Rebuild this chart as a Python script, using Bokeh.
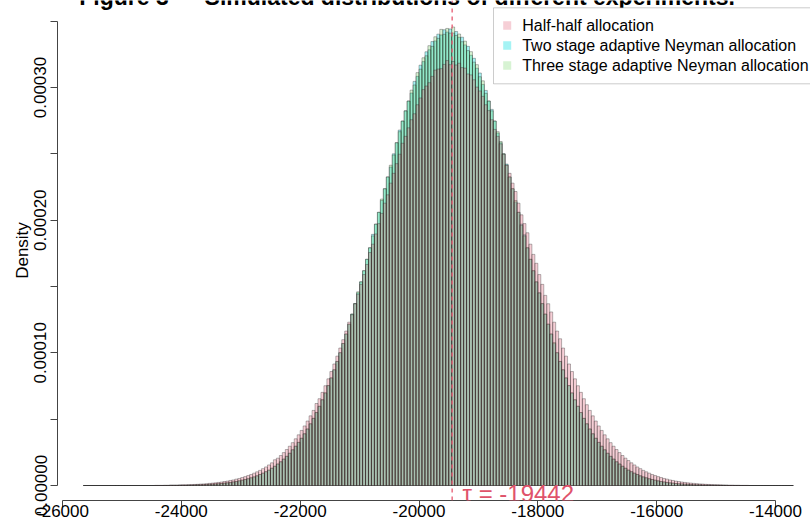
import math
import numpy as np
from bokeh.plotting import figure
from bokeh.models import (ColumnDataSource, Span, Label, BoxAnnotation,
                          FixedTicker, PrintfTickFormatter, Range1d)
from bokeh.embed import file_html
from bokeh.resources import INLINE

# ---------------- data (densities in units of 1e-6) ----------------
bin_start = -25650
bin_width = 50
tau = -19442

half_half = [
    0.0, 0.0, 0.0, 0.0, 0.0, 0.0, 0.0, 0.0, 0.0, 0.0, 0.0, 0.0,
    0.0, 0.0, 0.0, 0.0, 0.0, 0.0, 0.0, 0.0, 0.0, 0.0, 0.0, 0.0,
    0.1, 0.1, 0.1, 0.2, 0.2, 0.3, 0.3, 0.3, 0.4, 0.5,
    0.5, 0.6, 0.7, 0.8, 0.9, 1.1, 1.2, 1.4, 1.6, 1.8,
    2.0, 2.3, 2.6, 3.0, 3.3, 3.8, 4.2, 4.8, 5.3, 6.0,
    6.7, 7.5, 8.3, 9.3, 10.3, 11.4, 12.7, 14.0, 15.5, 17.1,
    19.4, 20.6, 22.6, 24.8, 27.1, 29.6, 32.3, 35.2, 38.2, 41.5,
    44.9, 48.6, 52.5, 56.6, 61.8, 65.4, 70.2, 75.2, 80.4, 85.9,
    91.6, 97.5, 103.6, 109.9, 116.4, 123.1, 128.7, 137.0, 144.2, 151.6,
    159.0, 166.6, 175.6, 181.9, 189.6, 197.4, 205.1, 212.8, 219.1, 227.9,
    235.3, 242.6, 249.7, 258.0, 263.2, 269.6, 275.7, 280.2, 287.0, 292.1,
    298.4, 301.1, 303.6, 308.4, 313.1, 313.9, 314.2, 317.4, 320.3, 317.2,
    319.6, 317.0, 318.3, 315.0, 314.6, 310.2, 309.5, 305.8, 300.3, 297.4,
    293.3, 287.0, 282.6, 275.7, 268.4, 263.2, 257.5, 249.7, 241.5, 235.3,
    227.9, 221.6, 212.8, 204.0, 197.4, 190.5, 181.9, 174.2, 167.5, 159.0,
    151.6, 143.3, 137.0, 130.8, 123.1, 116.4, 110.6, 103.6, 97.5, 91.6,
    85.9, 80.4, 75.2, 70.2, 65.4, 60.9, 56.6, 52.5, 48.6, 44.9,
    41.5, 38.2, 35.2, 32.3, 29.6, 27.1, 24.8, 22.6, 20.6, 18.8,
    17.1, 15.5, 14.0, 12.7, 11.4, 10.3, 9.3, 8.3, 7.5, 6.7,
    6.0, 5.3, 4.8, 4.2, 3.8, 3.3, 3.0, 2.6, 2.3, 2.0,
    1.8, 1.6, 1.4, 1.2, 1.1, 0.9, 0.8, 0.7, 0.6, 0.5,
    0.5, 0.4, 0.3, 0.3, 0.3, 0.2, 0.2, 0.1, 0.1, 0.1,
    0.0, 0.0, 0.0, 0.0, 0.0, 0.0, 0.0, 0.0, 0.0, 0.0, 0.0, 0.0, 0.0, 0.0, 0.0,
]

two_stage = [
    0.0, 0.0, 0.0, 0.0, 0.0, 0.0, 0.0, 0.0, 0.0, 0.0, 0.0, 0.0, 0.0, 0.0, 0.0,
    0.0, 0.0, 0.0, 0.0, 0.0, 0.0, 0.0, 0.0, 0.0, 0.0, 0.0, 0.0, 0.0, 0.0,
    0.1, 0.1, 0.1, 0.2,
    0.2, 0.2, 0.3, 0.3, 0.4, 0.5, 0.5, 0.6, 0.7, 0.9,
    1.0, 1.2, 1.3, 1.5, 1.8, 2.0, 2.3, 2.7, 3.0, 3.5,
    4.0, 4.5, 5.1, 5.8, 6.5, 7.3, 8.3, 9.3, 10.4, 11.6,
    13.0, 14.5, 16.2, 17.9, 19.9, 22.0, 24.3, 26.9, 29.6, 32.5,
    35.6, 39.0, 42.6, 46.5, 50.6, 55.0, 59.7, 64.6, 69.8, 75.3,
    81.1, 87.2, 93.5, 100.1, 107.0, 114.2, 121.6, 129.2, 137.1, 145.2,
    153.5, 161.9, 170.5, 179.2, 189.3, 197.0, 205.9, 214.8, 223.7, 232.6,
    240.0, 250.0, 258.4, 267.9, 274.7, 282.4, 289.8, 295.8, 304.6, 308.4,
    316.8, 319.5, 326.9, 328.4, 334.6, 335.1, 340.2, 339.6, 343.5, 341.8,
    344.1, 341.0, 342.2, 337.8, 337.9, 332.1, 331.0, 324.3, 322.0, 314.5,
    310.9, 302.3, 297.8, 289.8, 283.5, 274.7, 265.6, 258.4, 250.0, 242.3,
    232.6, 223.7, 213.7, 205.9, 197.0, 189.0, 179.2, 170.5, 161.9, 153.5,
    145.2, 137.1, 129.2, 121.6, 114.2, 107.0, 100.1, 93.5, 87.2, 81.1,
    75.3, 69.8, 64.6, 59.7, 55.0, 50.6, 46.5, 42.6, 39.0, 35.6,
    32.5, 29.6, 26.9, 24.3, 22.0, 19.9, 17.9, 16.2, 14.5, 13.0,
    11.6, 10.4, 9.3, 8.3, 7.3, 6.5, 5.8, 5.1, 4.5, 4.0,
    3.5, 3.0, 2.7, 2.3, 2.0, 1.8, 1.5, 1.3, 1.2, 1.0,
    0.9, 0.7, 0.6, 0.5, 0.5, 0.4, 0.3, 0.3, 0.2, 0.2,
    0.2, 0.1, 0.1, 0.1,
    0.0, 0.0, 0.0, 0.0, 0.0, 0.0, 0.0, 0.0, 0.0, 0.0, 0.0,
    0.0, 0.0, 0.0, 0.0, 0.0, 0.0, 0.0, 0.0, 0.0, 0.0, 0.0,
]

three_stage = [
    0.0, 0.0, 0.0, 0.0, 0.0, 0.0, 0.0, 0.0, 0.0, 0.0, 0.0, 0.0, 0.0, 0.0, 0.0,
    0.0, 0.0, 0.0, 0.0, 0.0, 0.0, 0.0, 0.0, 0.0, 0.0, 0.0, 0.0, 0.0, 0.0,
    0.1, 0.1, 0.1, 0.2,
    0.2, 0.2, 0.3, 0.3, 0.4, 0.5, 0.5, 0.6, 0.7, 0.9,
    1.0, 1.2, 1.3, 1.5, 1.8, 2.0, 2.3, 2.7, 3.0, 3.5,
    4.0, 4.5, 5.1, 5.8, 6.5, 7.3, 8.3, 9.3, 10.4, 11.6,
    13.0, 14.5, 16.2, 17.9, 19.9, 22.0, 24.3, 26.9, 29.6, 32.5,
    35.6, 39.0, 42.6, 46.5, 50.6, 55.0, 59.7, 64.6, 69.8, 75.3,
    81.1, 87.2, 93.5, 100.1, 107.0, 114.2, 121.6, 129.2, 137.1, 146.0,
    153.5, 161.9, 170.5, 179.2, 188.1, 197.0, 205.9, 215.9, 223.7, 232.6,
    241.4, 249.1, 258.4, 266.7, 274.7, 282.4, 289.8, 298.0, 301.9, 311.2,
    313.8, 322.4, 323.9, 331.5, 331.0, 338.2, 337.0, 343.8, 340.1, 344.5,
    341.0, 345.6, 339.2, 340.3, 334.5, 334.9, 327.8, 327.0, 319.1, 317.2,
    308.1, 305.0, 295.6, 289.8, 282.4, 274.7, 266.7, 259.3, 250.0, 241.4,
    232.6, 223.7, 214.8, 205.9, 196.1, 188.1, 179.2, 170.5, 161.9, 153.5,
    145.2, 137.1, 129.2, 121.6, 114.2, 107.8, 100.1, 93.5, 87.2, 81.1,
    75.3, 69.8, 64.6, 59.7, 55.0, 50.6, 46.5, 42.6, 39.0, 35.6,
    32.5, 29.6, 26.9, 24.3, 22.0, 19.9, 17.9, 16.2, 14.5, 13.0,
    11.6, 10.4, 9.3, 8.3, 7.3, 6.5, 5.8, 5.1, 4.5, 4.0,
    3.5, 3.0, 2.7, 2.3, 2.0, 1.8, 1.5, 1.3, 1.2, 1.0,
    0.9, 0.7, 0.6, 0.5, 0.5, 0.4, 0.3, 0.3, 0.2, 0.2,
    0.2, 0.1, 0.1, 0.1,
    0.0, 0.0, 0.0, 0.0, 0.0, 0.0, 0.0, 0.0, 0.0, 0.0, 0.0,
    0.0, 0.0, 0.0, 0.0, 0.0, 0.0, 0.0, 0.0, 0.0, 0.0, 0.0,
]

series_names = ["Half-half allocation",
                "Two stage adaptive Neyman allocation",
                "Three stage adaptive Neyman allocation"]
x_ticks = [-26000, -24000, -22000, -20000, -18000, -16000, -14000]
y_ticks = [0.0, 0.0001, 0.0002, 0.0003]
y_minor_ticks = [0.00005, 0.00015, 0.00025, 0.00035]
title_text = "Figure 3  \u2014  Simulated distributions of different experiments."
tau_text = "\u03c4 = -19442"

# ---------------- styling ----------------
colors = ["#DF536B", "#28E2E5", "#61D04F"]
alphas = [0.28, 0.42, 0.25]
draw_order = [1, 2, 0]
FONT = "Liberation Sans"

# reference-pixel -> data helpers (for annotation placement only)
def dx(px):
    return -26000 + (px - 62) * 12000.0 / 713.0

def dy(py):
    return (485 - py) / 132.67 * 1e-4

p = figure(width=810, height=524, output_backend="svg", toolbar_location=None,
           x_range=Range1d(dx(57), dx(810)), y_range=Range1d(dy(500), dy(0)),
           min_border_left=57, min_border_right=0, min_border_top=0,
           min_border_bottom=24)
p.outline_line_color = None
p.xgrid.visible = False
p.ygrid.visible = False
p.background_fill_color = "white"
p.border_fill_color = "white"

all_series = [half_half, two_stage, three_stage]
n_bins = len(half_half)
edges = bin_start + bin_width * np.arange(n_bins + 1)
for i in draw_order:
    src = ColumnDataSource(dict(left=edges[:-1], right=edges[1:],
                                top=np.array(all_series[i]) * 1e-6,
                                bottom=np.zeros(n_bins)))
    p.quad(left="left", right="right", top="top", bottom="bottom", source=src,
           fill_color=colors[i], fill_alpha=alphas[i], line_color="#222222",
           line_width=0.55, line_alpha=0.6)

# axes
xa = p.xaxis[0]
xa.ticker = FixedTicker(ticks=x_ticks, minor_ticks=[])
xa.formatter = PrintfTickFormatter(format="%d")
xa.bounds = (x_ticks[0], x_ticks[-1])
xa.major_tick_out = 7
xa.major_tick_in = 0
xa.major_label_standoff = -3
xa.axis_line_color = "#444444"
xa.major_tick_line_color = "#444444"
xa.major_label_text_font = FONT
xa.major_label_text_font_size = "17px"
xa.major_label_text_color = "black"

ya = p.yaxis[0]
ya.ticker = FixedTicker(ticks=y_ticks, minor_ticks=y_minor_ticks)
ya.formatter = PrintfTickFormatter(format="%.5f")
ya.bounds = (0, y_minor_ticks[-1])
ya.major_tick_out = 7
ya.major_tick_in = 0
ya.minor_tick_out = 7
ya.minor_tick_in = 0
ya.major_label_standoff = 4
ya.major_label_orientation = "vertical"
ya.axis_line_color = "#444444"
ya.major_tick_line_color = "#444444"
ya.minor_tick_line_color = "#444444"
ya.major_label_text_font = FONT
ya.major_label_text_font_size = "17px"
ya.major_label_text_color = "black"
ya.axis_label = "Density"
ya.axis_label_standoff = 0
ya.axis_label_text_font = FONT
ya.axis_label_text_font_size = "17px"
ya.axis_label_text_font_style = "normal"
ya.axis_label_text_color = "black"

# tau line and label
p.add_layout(Span(location=tau, dimension="height", line_color="#E8647A",
                  line_dash="4 4", line_width=1.4))
p.add_layout(Label(x=dx(462), y=dy(493), text=tau_text, text_color="#DF536B",
                   text_font=FONT, text_font_size="24px",
                   text_align="left", text_baseline="middle"))

# title (cut off at top as in reference)
p.add_layout(Label(x=dx(413), y=dy(-3.5), text=title_text, text_font=FONT,
                   text_font_size="23px", text_font_style="bold",
                   text_color="black", text_align="center",
                   text_baseline="middle"))

# legend
p.add_layout(BoxAnnotation(left=dx(493), right=dx(813), top=dy(7.3),
                           bottom=dy(83.3), fill_color="white", fill_alpha=1.0,
                           line_color="#555555", line_width=1))
for i, (name, col, a) in enumerate(zip(series_names, colors, alphas)):
    yc = 25 + 20 * i
    p.add_layout(BoxAnnotation(left=dx(502.7), right=dx(510.7),
                               top=dy(yc - 4.3), bottom=dy(yc + 4.3),
                               fill_color=col, fill_alpha=a,
                               line_color=None))
    p.add_layout(Label(x=dx(521.7), y=dy(yc), text=name, text_font=FONT,
                       text_font_size="16px", text_color="black",
                       text_align="left", text_baseline="middle"))

open("out.html", "w").write(file_html(p, INLINE))
